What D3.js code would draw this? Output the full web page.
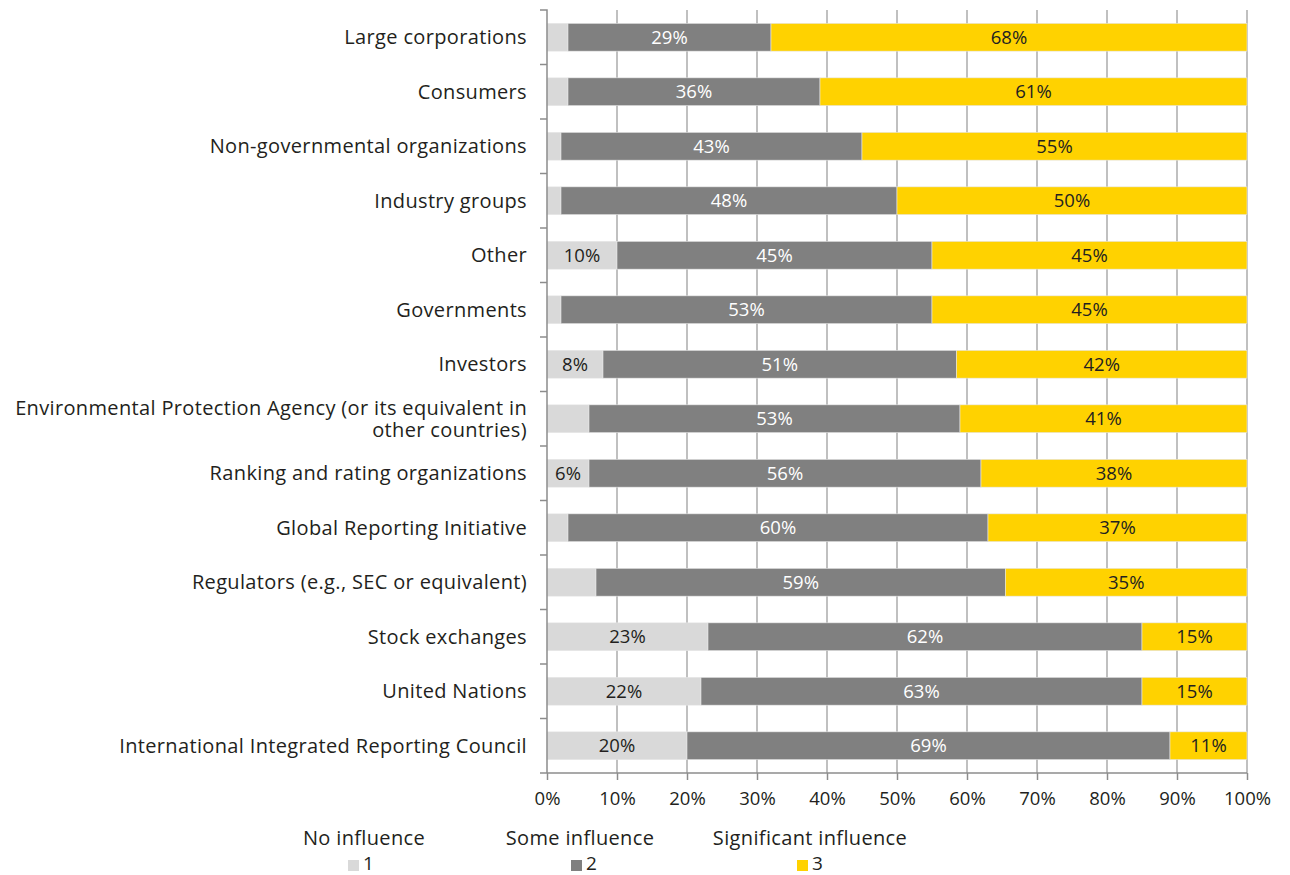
<!DOCTYPE html>
<html>
<head>
<meta charset="utf-8">
<script src="https://cdn.jsdelivr.net/npm/d3@7"></script>
<style>
  body { margin: 0; background: #fff; }
  text { font-family: "Open Sans", "Lato", sans-serif; fill: #231f20; }
</style>
</head>
<body>
<div id="chart"></div>
<script>
// categories, top to bottom
var categories = [
    "Large corporations",
    "Consumers",
    "Non-governmental organizations",
    "Industry groups",
    "Other",
    "Governments",
    "Investors",
    "Environmental Protection Agency (or its equivalent in|other countries)",
    "Ranking and rating organizations",
    "Global Reporting Initiative",
    "Regulators (e.g., SEC or equivalent)",
    "Stock exchanges",
    "United Nations",
    "International Integrated Reporting Council"
];

// 1 = no influence, 2 = some influence, 3 = significant influence
var noInfluence   = [3, 3, 2, 2, 10, 2, 8, 6, 6, 3, 7, 23, 22, 20];
var someInfluence = [29, 36, 43, 48, 45, 53, 50.5, 53, 56, 60, 58.5, 62, 63, 69];
var sigInfluence  = [68, 61, 55, 50, 45, 45, 41.5, 41, 38, 37, 34.5, 15, 15, 11];

// labels shown on the light segment (blank where the chart has none)
var noLabels = ["", "", "", "", "10%", "", "8%", "", "6%", "", "", "23%", "22%", "20%"];

var seriesNames = ["No influence", "Some influence", "Significant influence"];
var seriesKeys = ["1", "2", "3"];
var colors = ["#d9d9d9", "#808080", "#ffd200"];
var xTicks = [0, 10, 20, 30, 40, 50, 60, 70, 80, 90, 100];

var margin = {top: 10, right: 43, bottom: 102, left: 547},
    width = 1290 - margin.left - margin.right,
    height = 875 - margin.top - margin.bottom;

var svg = d3.select("#chart")
    .append("svg")
        .attr("width", 1290)
        .attr("height", 875)
    .append("g")
        .attr("transform", "translate(" + margin.left + "," + margin.top + ")");

var rows = categories.map(function(c, i) {
    return {cat: c, a: noInfluence[i], b: someInfluence[i], c: sigInfluence[i], la: noLabels[i]};
});

var x = d3.scaleLinear().domain([0, 100]).range([0, width]);
var y = d3.scaleBand().domain(categories).range([0, height]).paddingInner(0.49).paddingOuter(0.245);
var yb = d3.scaleBand().domain(categories).range([0, height]);

// vertical grid
svg.append("g")
    .selectAll("line")
    .data(xTicks.slice(1))
    .enter()
    .append("line")
        .attr("x1", function(d) { return x(d); })
        .attr("x2", function(d) { return x(d); })
        .attr("y1", 0)
        .attr("y2", height)
        .attr("stroke", "#ababab")
        .attr("stroke-width", 1.5);

// stacked bars
var stack = d3.stack().keys(["a", "b", "c"]);
var layers = stack(rows);

var layer = svg.selectAll(".layer")
    .data(layers)
    .enter()
    .append("g")
        .attr("class", "layer")
        .attr("fill", function(d, i) { return colors[i]; });

layer.selectAll("rect")
    .data(function(d) { return d; })
    .enter()
    .append("rect")
        .attr("x", function(d) { return x(d[0]); })
        .attr("y", function(d) { return y(d.data.cat); })
        .attr("width", function(d) { return x(d[1]) - x(d[0]); })
        .attr("height", y.bandwidth())
        .attr("stroke", "#e6e6e6")
        .attr("stroke-width", 0.6);

// value labels
layer.selectAll("text")
    .data(function(d, i) { return d.map(function(p) { p.series = i; return p; }); })
    .enter()
    .append("text")
        .attr("x", function(d) { return (x(d[0]) + x(d[1])) / 2; })
        .attr("y", function(d) { return y(d.data.cat) + y.bandwidth() / 2; })
        .attr("dy", "0.36em")
        .attr("text-anchor", "middle")
        .style("font-size", "18.5px")
        .style("fill", function(d) { return d.series == 1 ? "#ffffff" : "#231f20"; })
        .text(function(d) {
            if (d.series == 0) return d.data.la;
            return Math.round(d[1] - d[0]) + "%";
        });

// y axis
var yAxis = svg.append("g")
    .call(d3.axisLeft(yb).tickSize(7).tickFormat(""));
yAxis.select(".domain").attr("stroke", "#8c8c8c").attr("stroke-width", 1.5).attr("d", "M-7,0H0V" + height);
yAxis.selectAll(".tick").remove();
svg.append("g")
    .selectAll("line")
    .data(categories.slice(1))
    .enter()
    .append("line")
        .attr("x1", -7).attr("x2", 0)
        .attr("y1", function(d) { return yb(d); })
        .attr("y2", function(d) { return yb(d); })
        .attr("stroke", "#8c8c8c")
        .attr("stroke-width", 1.5);

// category labels
var catText = svg.append("g")
    .selectAll("text")
    .data(categories)
    .enter()
    .append("text")
        .attr("text-anchor", "end")
        .attr("x", -20)
        .attr("y", function(d) { return y(d) + y.bandwidth() / 2; })
        .style("font-size", "20px")
        .style("letter-spacing", "0.35px");
catText.each(function(d) {
    var parts = d.split("|");
    var t = d3.select(this);
    parts.forEach(function(p, k) {
        t.append("tspan")
            .attr("x", -20)
            .attr("dy", k == 0 ? (parts.length == 1 ? "0.36em" : "-0.2em") : "1.1em")
            .text(p);
    });
});

// x axis
var xAxis = svg.append("g")
    .attr("transform", "translate(0," + height + ")")
    .call(d3.axisBottom(x).tickValues(xTicks).tickSize(7).tickPadding(12).tickFormat(function(d) { return d + "%"; }));
xAxis.select(".domain").attr("stroke", "#8c8c8c").attr("stroke-width", 1.5).attr("d", "M-7,0H" + width);
xAxis.selectAll(".tick line").attr("stroke", "#8c8c8c").attr("stroke-width", 1.5);
xAxis.selectAll(".tick text").style("font-size", "18.5px").style("font-family", "'Open Sans', sans-serif").attr("fill", "#231f20");

// legend
var legendX = [364, 580, 810];
var legend = svg.append("g")
    .attr("transform", "translate(" + (-margin.left) + "," + (-margin.top) + ")");
seriesNames.forEach(function(name, i) {
    legend.append("text")
        .attr("x", legendX[i])
        .attr("y", 838)
        .attr("dy", "0.36em")
        .attr("text-anchor", "middle")
        .style("font-size", "20px")
        .style("letter-spacing", "0.35px")
        .text(name);
});
var sqX = [348, 571, 797];
seriesKeys.forEach(function(k, i) {
    legend.append("rect")
        .attr("x", sqX[i])
        .attr("y", 860)
        .attr("width", 11)
        .attr("height", 11)
        .attr("fill", colors[i]);
    legend.append("text")
        .attr("x", sqX[i] + 15)
        .attr("y", 870)
        .style("font-size", "19px")
        .text(k);
});
</script>
</body>
</html>
